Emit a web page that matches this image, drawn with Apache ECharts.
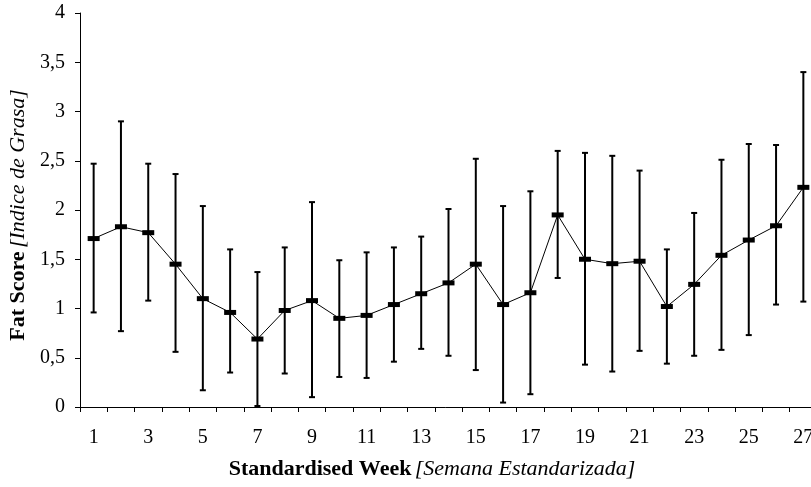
<!DOCTYPE html>
<html>
<head>
<meta charset="utf-8">
<style>
  html, body { margin: 0; padding: 0; background: #fff; }
  #chart { width: 811px; height: 487px; }
</style>
<script src="https://cdn.jsdelivr.net/npm/echarts@6/dist/echarts.min.js"></script>
</head>
<body>
<div id="chart"></div>
<script>
// semanas estandarizadas
const weeks = ['1','2','3','4','5','6','7','8','9','10','11','12','13','14','15','16','17','18','19','20','21','22','23','24','25','26','27'];
// indice de grasa medio
const meanScore = [1.71, 1.83, 1.77, 1.45, 1.10, 0.96, 0.69, 0.98, 1.08, 0.90, 0.93, 1.04, 1.15, 1.26, 1.45, 1.04, 1.16, 1.95, 1.50, 1.455, 1.48, 1.02, 1.245, 1.54, 1.695, 1.84, 2.23];
// extremos de las barras de error
const upperScore = [2.47, 2.90, 2.47, 2.365, 2.04, 1.60, 1.37, 1.62, 2.08, 1.49, 1.57, 1.62, 1.73, 2.01, 2.52, 2.04, 2.19, 2.60, 2.58, 2.55, 2.40, 1.60, 1.97, 2.51, 2.67, 2.66, 3.40];
const lowerScore = [0.96, 0.77, 1.08, 0.56, 0.17, 0.35, 0.01, 0.34, 0.10, 0.305, 0.295, 0.46, 0.59, 0.52, 0.375, 0.045, 0.13, 1.31, 0.43, 0.36, 0.57, 0.44, 0.52, 0.58, 0.73, 1.04, 1.07];
const yTicks = [0, 0.5, 1, 1.5, 2, 2.5, 3, 3.5, 4];

const chart = echarts.init(document.getElementById('chart'));

const serif = '"Liberation Serif", "Times New Roman", serif';

const errData = weeks.map((w, i) => [i, lowerScore[i], upperScore[i]]);

const option = {
  animation: false,
  backgroundColor: '#fff',
  grid: { left: 80, top: 13, width: 737, height: 394, containLabel: false, outerBoundsMode: 'none' },
  xAxis: {
    type: 'category',
    data: weeks,
    boundaryGap: true,
    axisLine: { lineStyle: { color: '#000', width: 1 } },
    axisTick: { show: true, inside: false, length: 5, interval: 0, alignWithLabel: false, lineStyle: { color: '#000' } },
    axisLabel: { interval: 1, color: '#000', fontFamily: serif, fontSize: 20, margin: 21 },
    splitLine: { show: false },
    name: '{b|Standardised Week} {i|[Semana Estandarizada]}',
    nameLocation: 'middle',
    nameGap: 51,
    nameTextStyle: {
      padding: [0, 0, 0, -33],
      rich: {
        b: { fontFamily: serif, fontSize: 22, fontWeight: 'bold', color: '#000' },
        i: { fontFamily: serif, fontSize: 22, fontStyle: 'italic', color: '#000' }
      }
    }
  },
  yAxis: {
    type: 'value',
    min: 0,
    max: 4,
    interval: 0.5,
    axisLine: { show: true, lineStyle: { color: '#000', width: 1 } },
    axisTick: { show: true, inside: false, length: 5, lineStyle: { color: '#000' } },
    axisLabel: {
      color: '#000', fontFamily: serif, fontSize: 20, margin: 15,
      formatter: v => String(v).replace('.', ',')
    },
    splitLine: { show: false },
    name: '{b|Fat Score} {i|[Indice de Grasa]}',
    nameLocation: 'middle',
    nameGap: 50,
    nameTextStyle: {
      padding: [0, 10, 0, 0],
      rich: {
        b: { fontFamily: serif, fontSize: 22, fontWeight: 'bold', color: '#000' },
        i: { fontFamily: serif, fontSize: 22, fontStyle: 'italic', color: '#000' }
      }
    }
  },
  series: [
    {
      type: 'custom',
      data: errData,
      z: 2,
      renderItem: function (params, api) {
        const x = api.value(0);
        const lo = api.coord([x, api.value(1)]);
        const hi = api.coord([x, api.value(2)]);
        const hw = 3;
        const style = { stroke: '#000', lineWidth: 2 };
        return {
          type: 'group',
          children: [
            { type: 'line', shape: { x1: hi[0], y1: hi[1], x2: lo[0], y2: lo[1] }, style: style },
            { type: 'line', shape: { x1: hi[0] - hw, y1: hi[1], x2: hi[0] + hw, y2: hi[1] }, style: style },
            { type: 'line', shape: { x1: lo[0] - hw, y1: lo[1], x2: lo[0] + hw, y2: lo[1] }, style: style }
          ]
        };
      }
    },
    {
      type: 'line',
      data: meanScore,
      z: 3,
      symbol: 'rect',
      symbolSize: [12, 5],
      showAllSymbol: true,
      itemStyle: { color: '#000' },
      lineStyle: { color: '#000', width: 1 }
    }
  ]
};

chart.setOption(option);
</script>
</body>
</html>
